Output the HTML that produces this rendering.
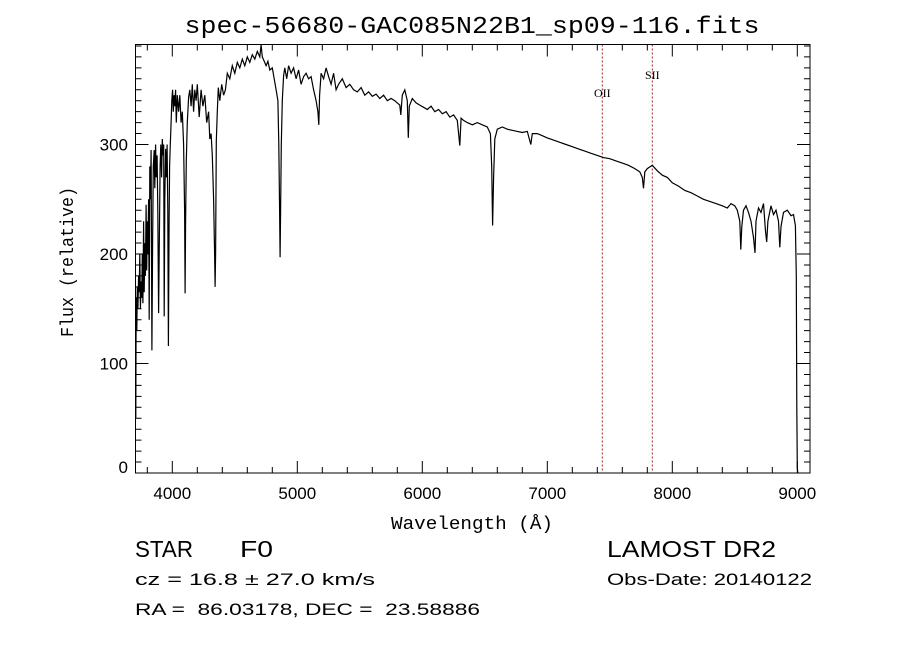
<!DOCTYPE html>
<html><head><meta charset="utf-8"><style>
html,body{margin:0;padding:0;background:#fff;}
svg{display:block;}
text{font-family:"Liberation Sans",sans-serif;fill:#000;}
.mono{font-family:"Liberation Mono",monospace;}
.serif{font-family:"Liberation Serif",serif;}
</style></head><body>
<svg id="chart" width="900" height="649" viewBox="0 0 900 649" xmlns="http://www.w3.org/2000/svg">
<rect width="900" height="649" fill="#fff"/>
<text x="472" y="33" text-anchor="middle" font-size="24" class="mono" textLength="575" lengthAdjust="spacingAndGlyphs">spec-56680-GAC085N22B1_sp09-116.fits</text>
<g id="ticks"></g>
<g id="lines"></g>
<rect x="135.5" y="44.5" width="674.5" height="428.5" fill="none" stroke="#000" stroke-width="1"/>
<text x="472" y="529" text-anchor="middle" font-size="18" class="mono" textLength="162" lengthAdjust="spacingAndGlyphs">Wavelength (Å)</text>
<text transform="translate(73,262) rotate(-90)" text-anchor="middle" font-size="18" class="mono" textLength="150" lengthAdjust="spacingAndGlyphs">Flux (relative)</text>
<text x="135" y="557" font-size="23" textLength="58" lengthAdjust="spacingAndGlyphs">STAR</text>
<text x="240" y="557" font-size="23" textLength="33" lengthAdjust="spacingAndGlyphs">F0</text>
<text x="135" y="585" font-size="17" textLength="240" lengthAdjust="spacingAndGlyphs">cz = 16.8 ± 27.0 km/s</text>
<text x="135" y="615" font-size="17" textLength="345" lengthAdjust="spacingAndGlyphs" style="white-space:pre">RA =  86.03178, DEC =  23.58886</text>
<text x="607" y="557" font-size="23" textLength="169" lengthAdjust="spacingAndGlyphs">LAMOST DR2</text>
<text x="607" y="585" font-size="17" textLength="205" lengthAdjust="spacingAndGlyphs">Obs-Date: 20140122</text>
</svg>
<script>
const xTicks = [4000,5000,6000,7000,8000,9000];
const yTicks = [0,100,200,300];
const lineNames = ["OII","SII"];
const lineWaves = [7440,7840];
const wave = [
3708,3710,3712,3716,3720,3725,3730,3735,3740,3745,
3750,3755,3760,3765,3770,3775,3780,3785,3790,3795,
3800,3805,3810,3815,3820,3825,3830,3837,3842,3848,
3855,3860,3866,3872,3878,3884,3890,3895,3902,3908,
3914,3920,3926,3931,3935,3940,3946,3952,3958,3964,
3969,3974,3978,3984,3990,3996,4002,4008,4014,4020,
4026,4032,4040,4050,4060,4070,4080,4090,4098,4102,
4106,4112,4120,4130,4140,4150,4160,4170,4180,4190,
4200,4215,4230,4245,4260,4275,4290,4300,4310,4320,
4330,4338,4342,4346,4352,4360,4368,4380,4395,4410,
4425,4440,4460,4480,4500,4520,4540,4560,4580,4600,
4620,4640,4660,4680,4700,4710,4720,4735,4750,4765,
4780,4800,4815,4830,4845,4852,4858,4862,4866,4872,
4880,4890,4900,4915,4930,4950,4970,4990,5010,5030,
5050,5070,5090,5110,5130,5150,5165,5172,5178,5190,
5210,5230,5250,5270,5290,5310,5330,5360,5390,5420,
5450,5480,5510,5540,5570,5600,5630,5660,5690,5720,
5750,5780,5800,5820,5828,5840,5860,5880,5888,5896,
5920,5950,5980,6010,6040,6070,6100,6130,6160,6190,
6220,6250,6280,6300,6310,6330,6360,6400,6440,6480,
6520,6545,6555,6562,6570,6580,6600,6640,6680,6720,
6760,6800,6840,6868,6880,6920,6960,7000,7050,7100,
7150,7200,7250,7300,7350,7400,7450,7500,7550,7600,
7650,7700,7740,7760,7770,7780,7800,7840,7880,7920,
7960,8000,8050,8100,8150,8200,8250,8300,8350,8400,
8440,8470,8500,8520,8540,8548,8556,8570,8590,8610,
8630,8650,8662,8670,8690,8710,8730,8745,8755,8765,
8790,8810,8830,8850,8860,8870,8890,8920,8950,8970,
8985,8992,8996,9000,9004];
const flux = [
50,140,160,130,170,150,180,165,200,150,
175,160,200,155,230,165,210,180,245,185,
230,200,250,140,280,250,295,112,210,280,
295,260,300,270,290,240,146,200,280,300,
270,305,290,300,143,250,296,270,300,240,
116,230,280,300,320,340,350,330,345,335,
350,320,345,330,345,320,330,300,240,164,
230,285,320,343,350,335,355,330,350,340,
355,325,350,335,345,320,330,305,310,290,
250,200,170,200,303,330,352,340,355,345,
350,365,360,372,365,375,370,378,372,380,
375,382,378,385,380,391,380,376,372,376,
368,370,360,350,340,300,240,197,240,300,
340,363,370,360,372,365,370,360,368,355,
362,365,360,362,350,340,330,318,345,365,
360,370,362,355,365,350,355,360,352,355,
350,348,352,345,348,344,346,342,345,340,
342,340,338,336,327,345,350,340,306,335,
342,338,336,334,332,335,330,332,328,330,
325,327,322,299,324,322,320,318,320,318,
316,310,280,226,270,305,314,316,314,313,
312,311,312,300,310,310,308,306,304,302,
300,298,296,294,292,290,288,287,285,283,
281,278,275,270,260,275,278,281,276,272,
270,265,262,258,256,253,250,248,246,244,
242,246,244,240,230,204,225,240,244,238,
230,215,201,230,242,238,246,222,211,230,
244,236,240,230,206,225,238,240,235,236,
226,180,60,5,0];
const X0=172.3, XS=0.125, Y0=473, YS=1.095;
function xPos(w){return X0+(w-4000)*XS;}
function yPos(f){return Y0-f*YS;}
const NS="http://www.w3.org/2000/svg";
const tg=document.getElementById('ticks');
const lg=document.getElementById('lines');
function mk(tag,attrs,parent){const e=document.createElementNS(NS,tag);for(const k in attrs)e.setAttribute(k,attrs[k]);parent.appendChild(e);return e;}
for(let w=3800;w<=9100;w+=200){
  const x=xPos(w);
  const major=w%1000===0;
  const L=major?12:6;
  const t=mk('path',{d:`M${x},473V${473-L}M${x},44.5V${44.5+L}`,stroke:'#000','stroke-width':1},tg);
  
  
}
for(const w of xTicks){
  const t=mk('text',{x:xPos(w),y:499,'text-anchor':'middle','font-size':17},tg);
  t.textContent=w;
  
  
}
for(let v=10;v<=390;v+=10){
  const y=yPos(v);
  const major=v%100===0;
  const L=major?13:6;
  const t=mk('path',{d:`M135.5,${y}H${135.5+L}M810,${y}H${810-L}`,stroke:'#000','stroke-width':1},tg);
  
  
}
for(const v of yTicks){
  const t=mk('text',{x:128,y:yPos(v)+(v===0?0:6),'text-anchor':'end','font-size':17},tg);
  t.textContent=v;
  
  
}
lineWaves.forEach((w,i)=>{
  const x=xPos(w);
  const l=mk('line',{x1:x,x2:x,y1:44.5,y2:473,stroke:'#a02020','stroke-width':1,'stroke-dasharray':'2,2'},lg);
  
  
  const t=mk('text',{x:x,y:i===0?97:79,'text-anchor':'middle','font-size':12,'class':'serif'},lg);
  t.textContent=lineNames[i];
  
  
});
let d='';
wave.forEach((w,i)=>{d+=(i?'L':'M')+xPos(w).toFixed(1)+','+yPos(flux[i]).toFixed(1);});
const p=mk('path',{d:d,fill:'none',stroke:'#000','stroke-width':1.2},lg);


</script>
</body></html>
